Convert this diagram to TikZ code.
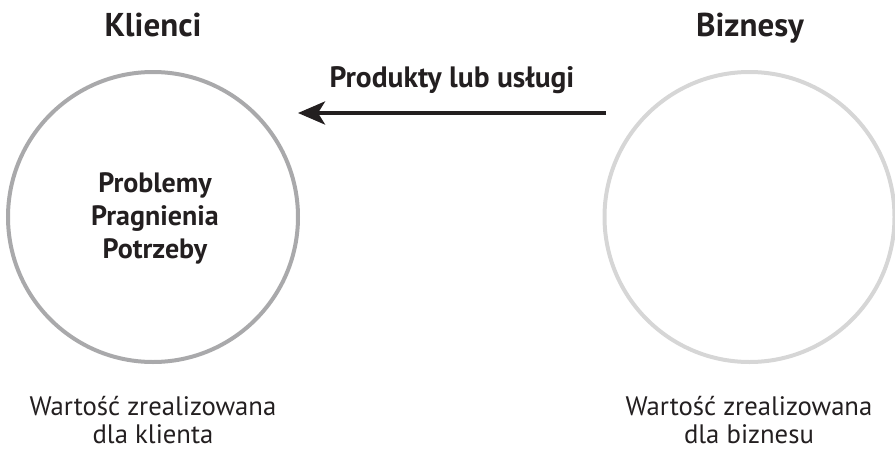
\documentclass[tikz,border=0pt]{standalone}
\usepackage{fontspec}
\setmainfont{PT Sans}
\usetikzlibrary{arrows.meta}
\definecolor{lgray}{HTML}{A9A9AB}
\definecolor{rgray}{HTML}{D6D6D6}
\definecolor{txt}{HTML}{231F20}
\begin{document}
\begin{tikzpicture}[x=1pt,y=-1pt,
  ring/.style={circle,draw,line width=4pt,minimum size=290pt,inner sep=0pt},
  title/.style={anchor=base,font=\fontsize{33}{33}\selectfont\bfseries,text=txt,inner sep=0pt},
  inner/.style={anchor=base,font=\fontsize{28}{28}\selectfont\bfseries,text=txt,inner sep=0pt},
  lab/.style={anchor=base,font=\fontsize{29.5}{29.5}\selectfont\bfseries,text=txt,inner sep=0pt},
  foot/.style={anchor=base,font=\fontsize{26.7}{26.7}\selectfont,text=txt,inner sep=0pt},
  flow/.style={line width=4pt,draw=txt,-{Stealth[length=27pt,width=23pt,inset=7pt]}}]
\useasboundingbox (0,0) rectangle (895,450);
\node[ring,draw=lgray] (lc) at (153,217) {};
\node[ring,draw=rgray] (rc) at (749.5,217) {};
\node[title] (tk) at (153,36) {Klienci};
\node[title] (tb) at (750,36) {Biznesy};
\node[lab] (lp) at (452,87) {Produkty lub usługi};
\node[inner] (i1) at (155,192) {Problemy};
\node[inner] (i2) at (155,225) {Pragnienia};
\node[inner] (i3) at (155,258) {Potrzeby};
\node[foot] (f1) at (153,415) {Wartość zrealizowana};
\node[foot] (f2) at (153,443) {dla klienta};
\node[foot] (g1) at (749,415) {Wartość zrealizowana};
\node[foot] (g2) at (749,443) {dla biznesu};
\coordinate (as) at (606,113);
\coordinate (ae) at (298,113);
\draw[flow] (as) -- (ae);
\end{tikzpicture}
\end{document}
